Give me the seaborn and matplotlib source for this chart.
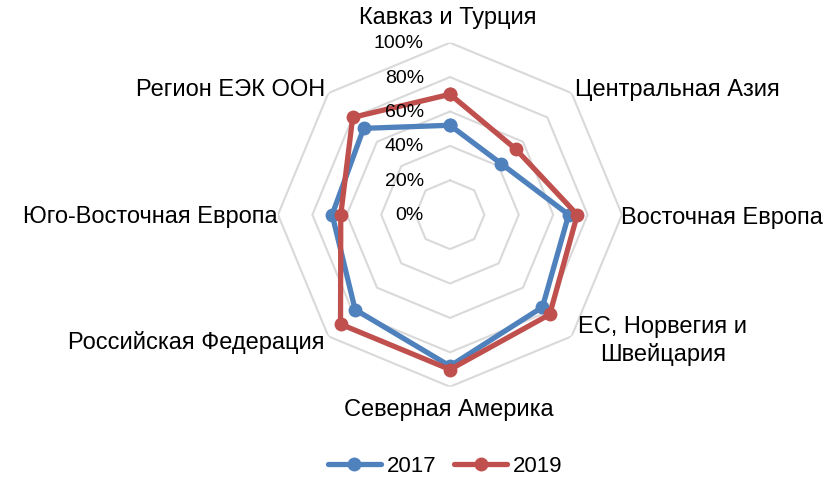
import numpy as np
import pandas as pd
import matplotlib
matplotlib.use("Agg")
import matplotlib.pyplot as plt
import matplotlib.transforms as mtransforms
import seaborn as sns

# Regions, clockwise from the top
regions = ['Кавказ и Турция', 'Центральная Азия', 'Восточная Европа',
           'ЕС, Норвегия и\nШвейцария', 'Северная Америка',
           'Российская Федерация', 'Юго-Восточная Европа', 'Регион ЕЭК ООН']
share_2017 = [0.52, 0.42, 0.69, 0.76, 0.88, 0.78, 0.685, 0.71]
share_2019 = [0.70, 0.54, 0.74, 0.82, 0.90, 0.90, 0.635, 0.80]
years = ['2017', '2019']
r_ticks = [0, 0.2, 0.4, 0.6, 0.8, 1.0]
r_labels = ['0%', '20%', '40%', '60%', '80%', '100%']

sns.set_theme(style="white")
plt.rcParams['font.family'] = ['Liberation Sans', 'DejaVu Sans']

n = len(regions)
angles = np.arange(n) * 2 * np.pi / n

# long table, close each polygon by repeating first point
rows = []
for yr, vals in zip(years, [share_2017, share_2019]):
    for i in range(n + 1):
        rows.append({'theta': angles[i % n] if i < n else 2 * np.pi,
                     'share': vals[i % n], 'year': yr, 'order': i})
df = pd.DataFrame(rows)

fig = plt.figure(figsize=(8.32, 4.85), dpi=100)
ax = fig.add_axes([0.3341, 0.2006, 0.4135, 0.7093], projection='polar')
ax.set_theta_offset(np.pi / 2)
ax.set_theta_direction(-1)
ax.set_ylim(0, 1)
ax.grid(False)
ax.spines['polar'].set_visible(False)
ax.set_xticks([])
ax.set_yticks([])

# octagonal rings
ring_theta = np.append(angles, 2 * np.pi)
for r in r_ticks[1:]:
    ax.plot(ring_theta, [r] * (n + 1), color='#D9D9D9', lw=1.5, zorder=1)

palette = {'2017': '#4F81BD', '2019': '#C0504D'}
sns.lineplot(data=df, x='theta', y='share', hue='year', units='year',
             estimator=None, sort=False, palette=palette, ax=ax,
             lw=3.8, marker='o', markersize=10, markeredgewidth=0,
             legend=False, zorder=3)

# radial labels, left of the upward axis
off = mtransforms.offset_copy(ax.transData, fig=fig, x=-26, y=0, units='dots')
for r, lab in zip(r_ticks, r_labels):
    ax.text(0, r, lab, transform=off, ha='right', va='center', fontsize=14,
            color='black', zorder=4)

# category labels
lab_pos = [(448, 18, 'center'), (575, 90, 'left'), (621, 218, 'left'),
           (663, 341, 'center'), (449, 410, 'center'), (325, 343, 'right'),
           (278, 217, 'right'), (325, 90, 'right')]
for txt, (px, py, ha) in zip(regions, lab_pos):
    fig.text(px / 832, 1 - py / 485, txt, ha=ha, va='center', fontsize=17,
             color='black', linespacing=1.25)

handles = [plt.Line2D([], [], color=palette[y], lw=3.8, marker='o',
                      markersize=10, markeredgewidth=0) for y in years]
fig.legend(handles, years, loc='center', bbox_to_anchor=(445 / 832, 1 - 467 / 485),
           ncol=2, frameon=False, fontsize=16, handlelength=2.4,
           handletextpad=0.25, columnspacing=0.8, labelcolor='black')

fig.savefig('out.png', dpi=100)
